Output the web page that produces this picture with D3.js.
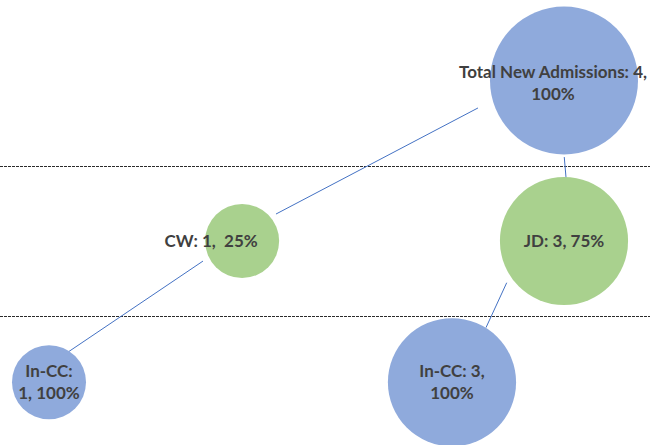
<!DOCTYPE html>
<html><head><meta charset="utf-8">
<script src="https://cdn.jsdelivr.net/npm/d3@7/dist/d3.min.js"></script>
<style>
html,body{margin:0;padding:0;background:#fff;}
svg{display:block;}
</style></head>
<body>
<div id="chart"></div>
<script>
// ---- data ----
const names  = ["Total New Admissions", "CW", "JD", "In-CC", "In-CC"];
const counts = [4, 1, 3, 1, 3];
const pcts   = [100, 25, 75, 100, 100];
const xVals  = [4, 1.5, 4, 0, 3.13];
const yVals  = [3, 2, 2, 1.12, 1.12];
const separators = [2.47, 1.535];
// connector segments (data units)
const linkX1 = [3.332, 4.002, 1.196, 3.555];
const linkY1 = [2.829, 2.523, 1.875, 1.740];
const linkX2 = [1.763, 4.016, 0.137, 3.394];
const linkY2 = [2.168, 2.393, 1.302, 1.460];

// ---- layout ----
const W = 650, H = 445;
const x = d3.scaleLinear().domain([0, 4]).range([49, 564]);
const y = d3.scaleLinear().domain([1, 3]).range([401.5, 80.5]);
const r = d3.scaleSqrt().domain([0, 4]).range([0, 74]);
const colors = ["#8FAADC", "#A9D18E", "#A9D18E", "#8FAADC", "#8FAADC"];
const breakAt = [2, 0, 0, 1, 2];      // token index where 2nd line starts (0 = single line)
const labelDx = [-11, -31, 0, 0, 0];
const labelDy = [2.5, 0, 0, 0, 0];

const svg = d3.select("#chart").append("svg").attr("width", W).attr("height", H);

// separators
svg.selectAll("line.sep").data(separators).enter().append("line")
  .attr("class", "sep")
  .attr("x1", 0).attr("x2", W)
  .attr("y1", d => Math.round(y(d)) + 0.5).attr("y2", d => Math.round(y(d)) + 0.5)
  .attr("stroke", "#2b2b2b").attr("stroke-width", 1).attr("stroke-dasharray", "3,1");

// connectors
const links = d3.range(linkX1.length);
svg.selectAll("line.link").data(links).enter().append("line")
  .attr("class", "link")
  .attr("x1", i => x(linkX1[i])).attr("y1", i => y(linkY1[i]))
  .attr("x2", i => x(linkX2[i])).attr("y2", i => y(linkY2[i]))
  .attr("stroke", "#4472C4").attr("stroke-width", 1);

// bubbles
const idx = d3.range(names.length);
svg.selectAll("circle").data(idx).enter().append("circle")
  .attr("cx", i => x(xVals[i])).attr("cy", i => y(yVals[i]))
  .attr("r", i => r(counts[i]))
  .attr("fill", i => colors[i]);

// labels
idx.forEach(i => {
  const tokens = [names[i] + ":", counts[i] + ",", pcts[i] + "%"];
  let lines;
  if (breakAt[i] > 0) {
    lines = [tokens.slice(0, breakAt[i]).join(" "), tokens.slice(breakAt[i]).join(" ")];
  } else if (i === 1) {
    lines = [tokens[0] + " " + tokens[1] + "  " + tokens[2]];
  } else {
    lines = [tokens.join(" ")];
  }
  const cx = x(xVals[i]) + labelDx[i];
  const cy = y(yVals[i]) + labelDy[i];
  const lh = 22;
  const t = svg.append("text")
    .attr("text-anchor", "middle")
    .attr("font-family", "Lato, 'Open Sans', sans-serif")
    .attr("font-weight", "bold")
    .attr("font-size", 17)
    .attr("fill", "#404040")
    .style("white-space", "pre");
  lines.forEach((ln, k) => {
    const baseline = cy + 6 + (k - (lines.length - 1) / 2) * lh;
    t.append("tspan").attr("x", cx).attr("y", baseline).text(ln);
  });
});
</script>
</body></html>
